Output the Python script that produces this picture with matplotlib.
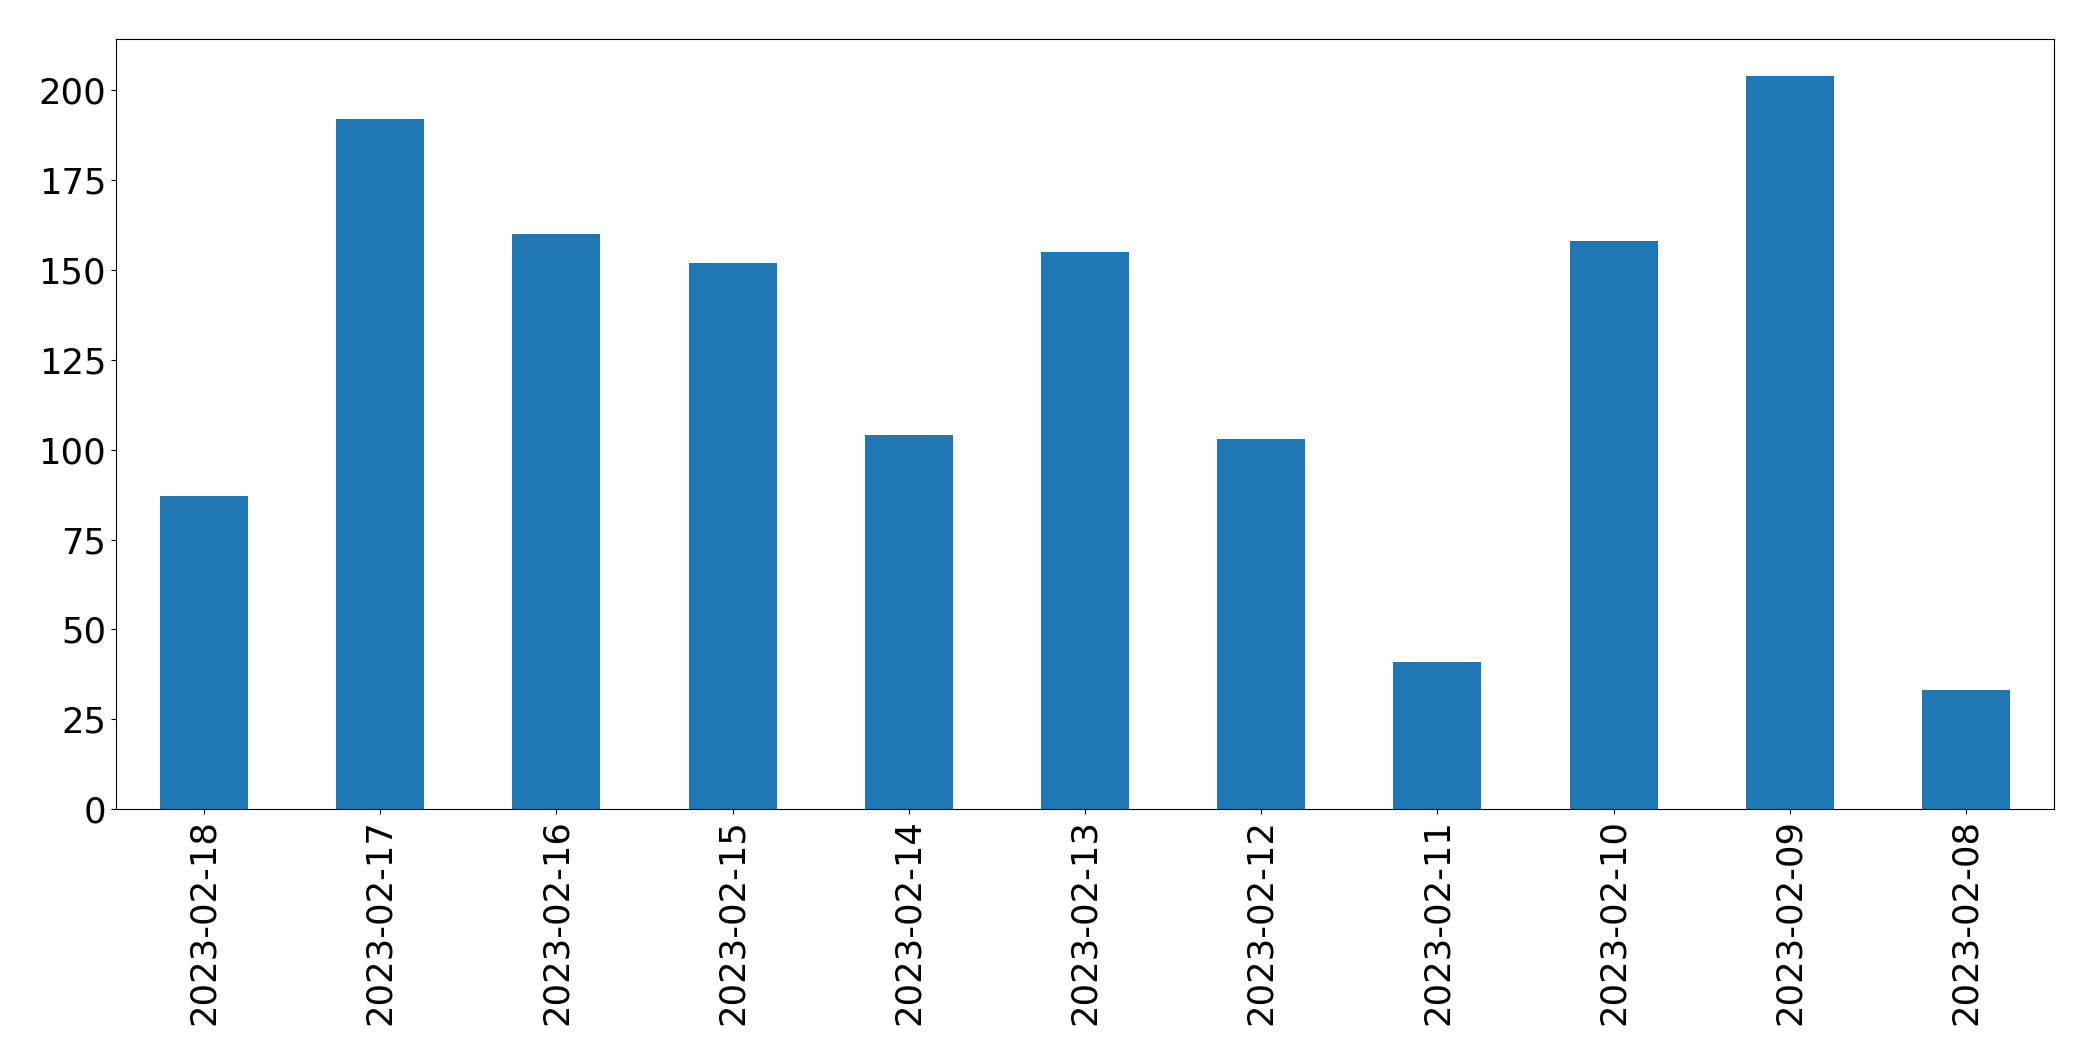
import matplotlib
matplotlib.use("Agg")
import matplotlib.pyplot as plt
import pandas as pd

# daily counts, newest first
dates = ["2023-02-18", "2023-02-17", "2023-02-16", "2023-02-15", "2023-02-14",
         "2023-02-13", "2023-02-12", "2023-02-11", "2023-02-10", "2023-02-09",
         "2023-02-08"]
counts = [87, 192, 160, 152, 104, 155, 103, 41, 158, 204, 33]

s = pd.Series(counts, index=dates)

fig = plt.figure(figsize=(20.93, 10.61), dpi=100)
ax = fig.add_axes([0.0554, 0.2375, 0.926, 0.7253])
s.plot(kind="bar", ax=ax, color="#1f77b4")

ax.tick_params(axis="both", labelsize=25.5)
ax.set_xlabel("")

fig.savefig("out.png", dpi=100)
